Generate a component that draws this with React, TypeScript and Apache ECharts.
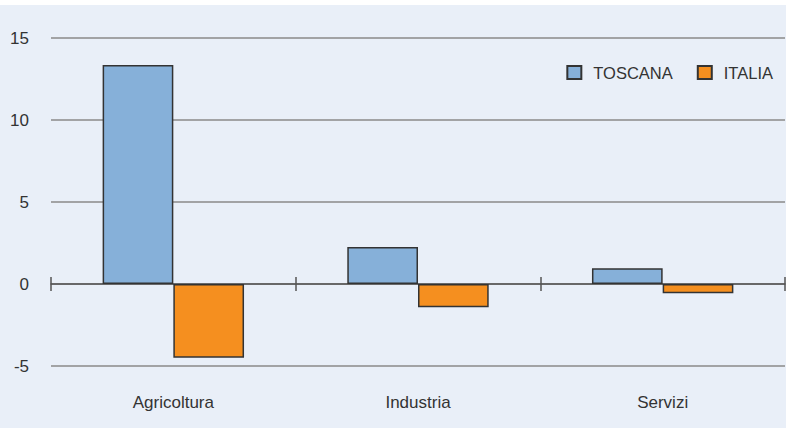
import React, { useEffect, useRef } from "react";
import * as echarts from "echarts";

const categories = ["Agricoltura", "Industria", "Servizi"];
const toscana = [13.35, 2.26, 0.96];
const italia = [-4.5, -1.42, -0.57];
const yTicks = { min: -5, max: 15, interval: 5 };

const FONT = "'Liberation Sans', Arial, sans-serif";
const TEXT = "#333333";

export default function App() {
  const ref = useRef<HTMLDivElement>(null);
  useEffect(() => {
    document.body.style.margin = "0";
    const chart = echarts.init(ref.current!, undefined, { renderer: "svg" });
    chart.setOption({
      animation: false,
      backgroundColor: "#e9eff8",
      textStyle: { fontFamily: FONT, color: TEXT },
      graphic: [
        { type: "rect", left: 0, top: 0, shape: { width: 786, height: 5 }, style: { fill: "#ffffff" }, silent: true },
      ],
      grid: { left: 51, right: 1, top: 38, bottom: 62, containLabel: false, outerBoundsMode: "none" },
      legend: {
        right: 8,
        top: 59,
        itemWidth: 14,
        itemHeight: 13,
        itemGap: 24,
        icon: "rect",
        textStyle: { fontFamily: FONT, fontSize: 16.5, color: TEXT, padding: [0, 0, 0, 7] },
        data: ["TOSCANA", "ITALIA"],
      },
      xAxis: [
        {
          type: "category",
          data: categories,
          position: "bottom",
          axisLine: { onZero: true, onZeroAxisIndex: 0, lineStyle: { color: "#555555", width: 1.5 } },
          axisTick: { show: true, length: 7, lineStyle: { color: "#555555", width: 1.5 } },
          axisLabel: { margin: 28, fontSize: 17, color: TEXT, fontFamily: FONT },
          splitLine: { show: false },
        },
        {
          type: "category",
          data: categories,
          position: "top",
          axisLine: { show: false, onZero: true, onZeroAxisIndex: 1 },
          axisTick: { show: true, length: 7, lineStyle: { color: "#555555", width: 1.5 } },
          axisLabel: { show: false },
          splitLine: { show: false },
        },
      ],
      yAxis: [
        {
          type: "value",
          min: yTicks.min,
          max: yTicks.max,
          interval: yTicks.interval,
          axisLine: { show: false },
          axisTick: { show: false },
          axisLabel: { margin: 22, fontSize: 17, color: TEXT, fontFamily: FONT },
          splitLine: { lineStyle: { color: "#8a8a8a", width: 1.5 } },
        },
        {
          type: "value",
          min: yTicks.min,
          max: yTicks.max,
          interval: yTicks.interval,
          axisLine: { show: false },
          axisTick: { show: false },
          axisLabel: { show: false },
          splitLine: { show: false },
        },
      ],
      series: [
        {
          name: "TOSCANA",
          type: "bar",
          data: toscana,
          barWidth: "28.9%",
          barGap: "0%",
          itemStyle: { color: "#86b0d9", borderColor: "#333333", borderWidth: 1.5 },
        },
        {
          name: "ITALIA",
          type: "bar",
          data: italia,
          barWidth: "28.9%",
          barGap: "0%",
          itemStyle: { color: "#f58f1f", borderColor: "#333333", borderWidth: 1.5 },
        },
      ],
    });
    return () => chart.dispose();
  }, []);
  return <div ref={ref} style={{ width: 786, height: 428 }} />;
}
